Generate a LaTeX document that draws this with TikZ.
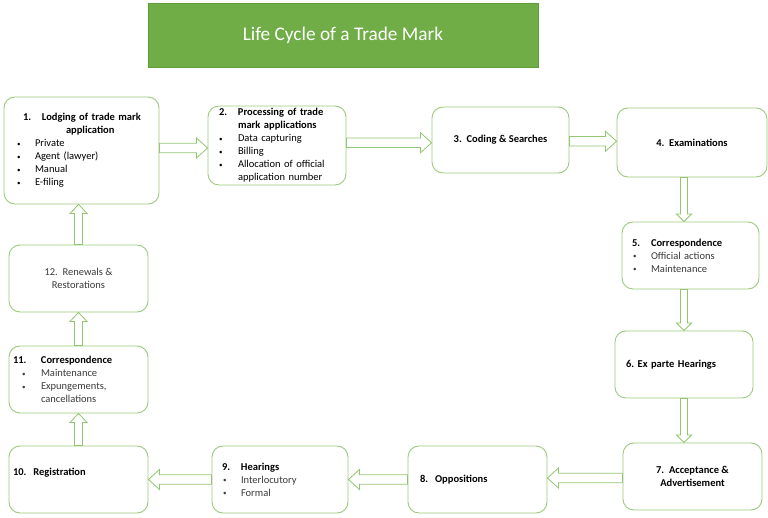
\documentclass[tikz,border=0pt]{standalone}
\usepackage{fontspec}
\setmainfont{Carlito}
\usetikzlibrary{calc}
\definecolor{boxgreen}{HTML}{9CCB7C}
\definecolor{arrowgreen}{HTML}{92C670}
\definecolor{titlegreen}{HTML}{70AD47}
\definecolor{titleedge}{HTML}{609C3C}
\definecolor{bodygray}{HTML}{3A3A3A}
\newcommand{\bul}{\raisebox{0.6pt}{\fontsize{7}{7}\selectfont\textbullet}}
\tikzset{
  ashaft/.code={\def\ashaft{#1}},
  ahead/.code={\def\ahead{#1}},
  alen/.code={\def\alen{#1}},
  arrowline/.style={draw=arrowgreen, fill=white, line width=0.8pt, line join=miter},
  harrow/.style={arrowline, ashaft=4.8pt, ahead=10pt, alen=11pt,
    to path={let \p1=(\tikztostart), \p2=(\tikztotarget), \n1={(\y1+\y2)/2}, \n2={sign(\x2-\x1)} in
      (\x1,{\n1*1pt-\ashaft}) -- ({\x2-(\n2)*\alen},{\n1*1pt-\ashaft}) -- ({\x2-(\n2)*\alen},{\n1*1pt-\ahead})
      -- (\x2,{\n1*1pt}) -- ({\x2-(\n2)*\alen},{\n1*1pt+\ahead}) -- ({\x2-(\n2)*\alen},{\n1*1pt+\ashaft})
      -- (\x1,{\n1*1pt+\ashaft}) -- cycle}},
  varrow/.style={arrowline, ashaft=4pt, ahead=8.5pt, alen=9pt,
    to path={let \p1=(\tikztostart), \p2=(\tikztotarget), \n1={(\x1+\x2)/2}, \n2={sign(\y2-\y1)} in
      ({\n1*1pt-\ashaft},\y1) -- ({\n1*1pt-\ashaft},{\y2-(\n2)*\alen}) -- ({\n1*1pt-\ahead},{\y2-(\n2)*\alen})
      -- ({\n1*1pt},\y2) -- ({\n1*1pt+\ahead},{\y2-(\n2)*\alen}) -- ({\n1*1pt+\ashaft},{\y2-(\n2)*\alen})
      -- ({\n1*1pt+\ashaft},\y1) -- cycle}},
  smallv/.style={ashaft=3.5pt, ahead=7.5pt, alen=7.5pt},
  box/.style={draw=boxgreen, line width=0.9pt, rounded corners=11pt, fill=white, inner sep=0pt, text=black},
  titlebox/.style={draw=titleedge, line width=0.6pt, fill=titlegreen, text=white, inner sep=0pt,
    font=\fontsize{19.3}{22}\selectfont}
}
\begin{document}
\begin{tikzpicture}[x=1pt, y=-1pt, font=\fontsize{10.5}{13}\selectfont]
\useasboundingbox (0,0) rectangle (768,518);
\fill[white] (0,0) rectangle (768,518);

\node[titlebox, minimum width=390pt, minimum height=64pt] (title) at (343,35) {Life Cycle of a Trade Mark};

\node[box, minimum width=155pt, minimum height=107pt, text width=129pt, align=left] (b1) at (81.5,150.5) {%
\hspace*{6pt}\makebox[19pt][l]{\textbf{1.}}\textbf{Lodging of trade mark}\\
\hspace*{49pt}\textbf{application}\\
\makebox[18pt][l]{\bul}Private\\
\makebox[18pt][l]{\bul}Agent (lawyer)\\
\makebox[18pt][l]{\bul}Manual\\
\makebox[18pt][l]{\bul}E-filing};

\node[box, minimum width=138pt, minimum height=79pt, text width=116pt, align=left] (b2) at (277,145.5) {%
\makebox[19pt][l]{\textbf{2.}}\textbf{Processing of trade}\\
\hspace*{19pt}\textbf{mark applications}\\
\makebox[19pt][l]{\bul}Data capturing\\
\makebox[19pt][l]{\bul}Billing\\
\makebox[19pt][l]{\bul}Allocation of official\\
\hspace*{19pt}application number};

\node[box, minimum width=137pt, minimum height=66pt, align=center] (b3) at (500.5,140) {\textbf{3.\ \ Coding \& Searches}};

\node[box, minimum width=150pt, minimum height=69pt, align=center] (b4) at (692,142.5) {\textbf{4.\ \ Examinations}};

\node[box, minimum width=137pt, minimum height=67pt, text width=117pt, align=left] (b5) at (690.5,255.5) {%
\makebox[19pt][l]{\textbf{5.}}\textbf{Correspondence}\\
\textcolor{bodygray}{\hspace*{1pt}\makebox[18pt][l]{\bul}Official actions}\\
\textcolor{bodygray}{\hspace*{1pt}\makebox[18pt][l]{\bul}Maintenance}};

\node[box, minimum width=138pt, minimum height=67pt, text width=116pt, align=left] (b6) at (684,364.5) {\textbf{6.\ Ex parte Hearings}};

\node[box, minimum width=139pt, minimum height=67pt, align=center] (b7) at (692.5,476.5) {\textbf{7.\ \ Acceptance \&}\\\textbf{Advertisement}};

\node[box, minimum width=139pt, minimum height=67pt, text width=115pt, align=left] (b8) at (477.5,479.5) {\textbf{8.\ \ Oppositions}};

\node[box, minimum width=136pt, minimum height=67pt, text width=116pt, align=left] (b9) at (280,479.5) {%
\makebox[19pt][l]{\textbf{9.}}\textbf{Hearings}\\
\textcolor{bodygray}{\hspace*{1pt}\makebox[18pt][l]{\bul}Interlocutory}\\
\textcolor{bodygray}{\hspace*{1pt}\makebox[18pt][l]{\bul}Formal}};

\node[box, minimum width=139pt, minimum height=67pt, text width=131pt, align=left] (b10) at (78.5,479.5) {\raisebox{7pt}[\height][\depth]{\textbf{10.\ \ Registration}}};

\node[box, minimum width=139pt, minimum height=67pt, text width=131pt, align=left] (b11) at (78.5,379.5) {%
\makebox[28pt][l]{\textbf{11.}}\textbf{Correspondence}\\
\textcolor{bodygray}{\hspace*{9pt}\makebox[19pt][l]{\bul}Maintenance}\\
\textcolor{bodygray}{\hspace*{9pt}\makebox[19pt][l]{\bul}Expungements,}\\
\textcolor{bodygray}{\hspace*{28pt}cancellations}};

\node[box, minimum width=139pt, minimum height=67pt, align=center, text=bodygray] (b12) at (78.5,278.5) {12.\ \ Renewals \&\\Restorations};

\draw[harrow] (b1.east) to (b2.west);
\draw[harrow] (b2.east) to (b3.west);
\draw[harrow] (b3.east) to (b4.west);
\draw[varrow, smallv] (b4.south -| b6.center) to (b5.north -| b6.center);
\draw[varrow, smallv] (b5.south -| b6.center) to (b6.north);
\draw[varrow, smallv] (b6.south) to (b7.north -| b6.center);
\draw[harrow] (b7.west) to (b8.east);
\draw[harrow] (b8.west) to (b9.east);
\draw[harrow] (b9.west) to (b10.east);
\draw[varrow] (b10.north) to (b11.south);
\draw[varrow] (b11.north) to (b12.south);
\draw[varrow] (b12.north) to (b1.south -| b12.center);
\end{tikzpicture}
\end{document}
